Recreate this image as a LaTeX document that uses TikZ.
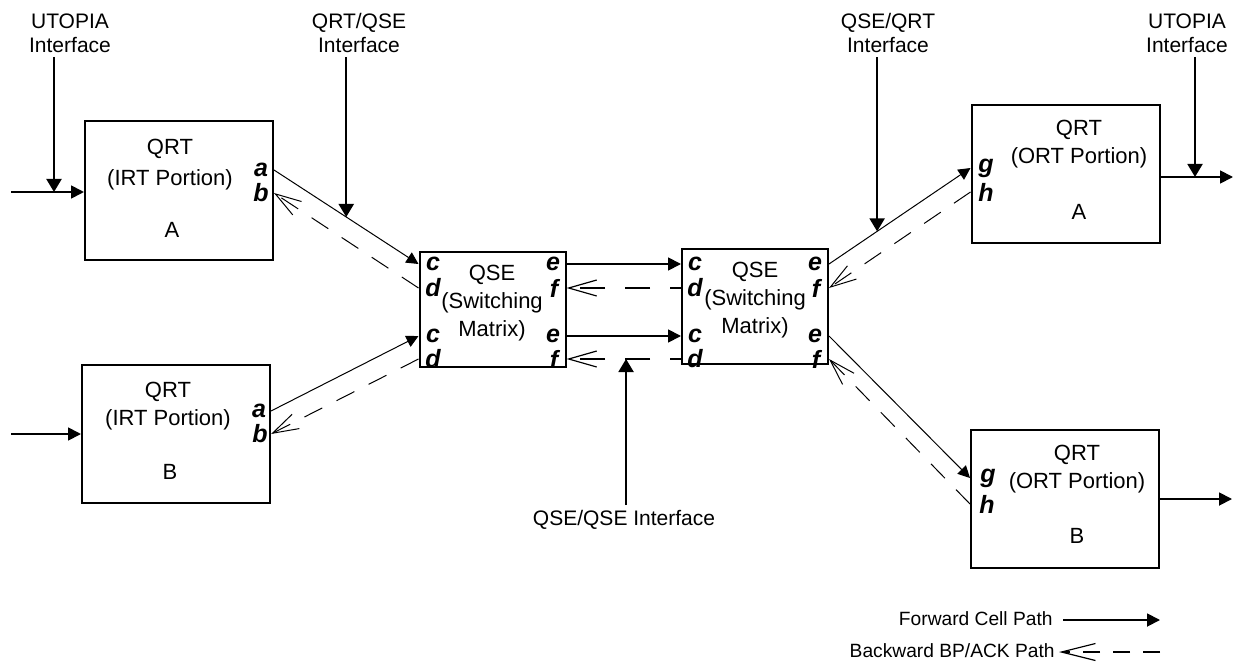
\documentclass[tikz,border=0pt]{standalone}
\usepackage{fontspec}
\setmainfont{Liberation Sans}
\usetikzlibrary{arrows.meta,calc}

\begin{document}
\begin{tikzpicture}[x=0.5pt, y=-0.5pt,
      qrt/.style={draw, line width=1pt, minimum width=94pt,
                  minimum height=69pt, inner sep=0pt},
      qse/.style={draw, line width=1pt, minimum width=73pt,
                  minimum height=57.5pt, inner sep=0pt},
      txt/.style={align=center, inner sep=0pt,
                  font=\fontsize{11}{14}\selectfont},
      ifc/.style={align=center, inner sep=0pt,
                  font=\fontsize{10.5}{12}\selectfont},
      lgd/.style={inner sep=0pt, font=\fontsize{9.6}{11}\selectfont},
      port/.style={inner sep=0pt,
                   font=\fontsize{12.5}{13}\selectfont\bfseries\itshape},
      fwd/.style={-{Triangle[length=6pt,width=6pt]}, line width=0.5pt},
      fwdthick/.style={-{Triangle[length=6.5pt,width=6.5pt]}, line width=0.9pt},
      bwd/.style={-{Straight Barb[length=13pt,width=8pt,line width=0.5pt]},
                  line width=0.5pt, dash pattern=on 10pt off 8pt},
      bwdthick/.style={-{Straight Barb[length=14pt,width=8pt,line width=0.6pt]},
                  line width=0.9pt, dash pattern=on 12.5pt off 10pt, dash phase=7pt},
      tap/.style={-{Triangle[length=6.5pt,width=7.5pt]}, line width=1pt},
    ]
    \useasboundingbox (0,0) rectangle (1235,663);

    %% boxes
    \node[qrt] (irtA) at (179,190.5) {};
    \node[qrt] (irtB) at (176,433.5) {};
    \node[qse] (qse1) at (492.5,309.5) {};
    \node[qse] (qse2) at (755,306.5) {};
    \node[qrt] (ortA) at (1065.5,174) {};
    \node[qrt] (ortB) at (1065,499) {};

    %% box texts
    \node[txt] (irtA-t) at (170,165) {QRT\\[1.5pt](IRT Portion)};
    \node[txt] (irtA-n) at (172,230) {A};
    \node[txt] (irtB-t) at (168,406) {QRT\\(IRT Portion)};
    \node[txt] (irtB-n) at (170,472) {B};
    \node[txt] (qse1-t) at (492,303) {QSE\\(Switching\\Matrix)};
    \node[txt] (qse2-t) at (755,300) {QSE\\(Switching\\Matrix)};
    \node[txt] (ortA-t) at (1079,144) {QRT\\(ORT Portion)};
    \node[txt] (ortA-n) at (1079,212) {A};
    \node[txt] (ortB-t) at (1077,469.5) {QRT\\(ORT Portion)};
    \node[txt] (ortB-n) at (1077,536) {B};

    %% port letters
    \node[port] (irtA-a) at (261,170) {a};
    \node[port] (irtA-b) at (261,193) {b};
    \node[port] (irtB-a) at (259,411) {a};
    \node[port] (irtB-b) at (260,434) {b};
    \node[port] (qse1-c1) at (433,264) {c};
    \node[port] (qse1-d1) at (433,288) {d};
    \node[port] (qse1-c2) at (433,336) {c};
    \node[port] (qse1-d2) at (433,359) {d};
    \node[port] (qse1-e1) at (553,264) {e};
    \node[port] (qse1-f1) at (554,288) {f};
    \node[port] (qse1-e2) at (553,336) {e};
    \node[port] (qse1-f2) at (554,359) {f};
    \node[port] (qse2-c1) at (695,264) {c};
    \node[port] (qse2-d1) at (695,288) {d};
    \node[port] (qse2-c2) at (695,336) {c};
    \node[port] (qse2-d2) at (695,359) {d};
    \node[port] (qse2-e1) at (815,264) {e};
    \node[port] (qse2-f1) at (816,288) {f};
    \node[port] (qse2-e2) at (815,336) {e};
    \node[port] (qse2-f2) at (816,359) {f};
    \node[port] (ortA-g) at (986,168) {g};
    \node[port] (ortA-h) at (986,192) {h};
    \node[port] (ortB-g) at (988,478) {g};
    \node[port] (ortB-h) at (987,504) {h};

    %% interface labels
    \node[ifc] (utoL) at (70,33) {UTOPIA\\Interface};
    \node[ifc] (qrtqse) at (359,33) {QRT/QSE\\Interface};
    \node[ifc] (qseqrt) at (888,33) {QSE/QRT\\Interface};
    \node[ifc] (utoR) at (1187,33) {UTOPIA\\Interface};
    \node[ifc] (qseqse) at (624,520) {QSE/QSE Interface};

    %% in / out
    \coordinate (inA) at (11,192);
    \coordinate (inB) at (11,434);
    \coordinate (outA) at (1233,177);
    \coordinate (outB) at (1232,499);
    \draw[fwdthick] (inA) -- (inA -| irtA.west);
    \draw[fwdthick] (inB) -- (inB -| irtB.west);
    \draw[fwdthick] (outA -| ortA.east) -- (outA);
    \draw[fwdthick] (outB -| ortB.east) -- (outB);

    %% IRT -> QSE
    \draw[fwd] (irtA.east |- irtA-a) -- (qse1.west |- qse1-c1);
    \draw[bwd] (qse1.west |- qse1-d1) -- (irtA.east |- irtA-b);
    \draw[fwd] (irtB.east |- irtB-a) -- (qse1.west |- qse1-c2);
    \draw[bwd] (qse1.west |- qse1-d2) -- (irtB.east |- irtB-b);

    %% QSE -> QSE
    \draw[fwdthick] (qse1.east |- qse1-e1) -- (qse2.west |- qse1-e1);
    \draw[bwdthick] (qse2.west |- qse2-d1) -- (qse1.east |- qse2-d1);
    \draw[fwdthick] (qse1.east |- qse1-e2) -- (qse2.west |- qse1-e2);
    \draw[bwdthick] (qse2.west |- qse2-d2) -- (qse1.east |- qse2-d2);

    %% QSE -> ORT
    \draw[fwd] (qse2.east |- qse2-e1) -- (ortA.west |- ortA-g);
    \draw[bwd] (ortA.west |- ortA-h) -- (qse2.east |- qse2-f1);
    \draw[fwd] (qse2.east |- qse2-e2) -- (ortB.west |- ortB-g);
    \draw[bwd] (ortB.west |- ortB-h) -- (qse2.east |- qse2-f2);

    %% interface taps
    \coordinate (tapUL) at (54,192);
    \coordinate (tapUR) at (1195,177);
    \coordinate (tapQA) at ($(irtA.east |- irtA-a)!0.5!(qse1.west |- qse1-c1)$);
    \coordinate (tapQB) at ($(qse2.east |- qse2-e1)!0.34!(ortA.west |- ortA-g)$);
    \coordinate (tapQQ) at ($(qse1.east |- qse2-d2)!0.52!(qse2.west |- qse2-d2)$);
    \draw[tap] ([yshift=-2pt]utoL.south -| tapUL) -- (tapUL);
    \draw[tap] ([yshift=-2pt]qrtqse.south -| tapQA) -- (tapQA);
    \draw[tap] ([yshift=-2pt]qseqrt.south -| tapQB) -- (tapQB);
    \draw[tap] ([yshift=-2pt]utoR.south -| tapUR) -- (tapUR);
    \draw[tap] ([yshift=2.5pt]qseqse.north -| tapQQ) -- (tapQQ);

    %% legend
    \node[lgd, anchor=east] (fwdlbl) at (1053,619) {Forward Cell Path};
    \node[lgd, anchor=east] (bwdlbl) at (1055,651) {Backward BP/ACK Path};
    \coordinate (fwdEnd) at (1160,620);
    \coordinate (bwdEnd) at (1160,652);
    \draw[fwdthick] ([xshift=5pt]fwdlbl.east |- fwdEnd) -- (fwdEnd);
    \draw[-{Straight Barb[length=17pt,width=8.5pt,line width=0.6pt]},
          line width=0.9pt, dash pattern=on 8.5pt off 6.5pt]
      (bwdEnd) -- ([xshift=2pt]bwdlbl.east |- bwdEnd);
\end{tikzpicture}
\end{document}
